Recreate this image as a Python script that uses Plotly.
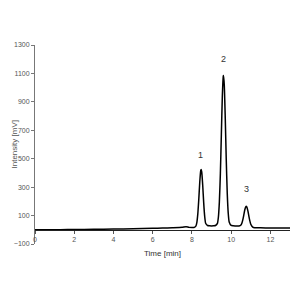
import plotly.graph_objects as go

time_min = [0, 0.5, 1.0, 1.3, 2.0, 3.0, 4.0, 5.0, 6.0, 6.5, 7.0, 7.5, 7.7, 7.85, 8.0,
            8.1, 8.2, 8.25, 8.3, 8.35, 8.4, 8.45, 8.47, 8.5, 8.55, 8.6, 8.65, 8.7, 8.8,
            8.9, 9.0, 9.1, 9.2, 9.3, 9.35, 9.4, 9.45, 9.5, 9.55, 9.6, 9.61, 9.65, 9.7,
            9.75, 9.8, 9.85, 9.9, 10.0, 10.1, 10.2, 10.3, 10.4, 10.5, 10.55, 10.6, 10.65,
            10.7, 10.75, 10.77, 10.8, 10.85, 10.9, 10.95, 11.0, 11.1, 11.2, 11.5, 12.0, 13.0]
intensity_mv = [0, 0, 1, 1, 2, 3, 5, 7, 10, 12, 14, 17, 22, 17, 16,
                16, 26, 51, 112, 215, 336, 417, 425, 407, 313, 191, 96, 46, 30,
                28, 27, 28, 30, 45, 90, 198, 395, 668, 938, 1081, 1085, 1017, 782,
                494, 260, 119, 55, 31, 28, 27, 27, 27, 34, 48, 73, 108,
                143, 163, 165, 160, 135, 98, 64, 39, 19, 15, 14, 13, 13]

peak_labels = ["1", "2", "3"]
peak_label_x = [8.42, 9.59, 10.77]
peak_label_y = [526, 1202, 287]

y_ticks = [-100, 100, 300, 500, 700, 900, 1100, 1300]
x_ticks = [0, 2, 4, 6, 8, 10, 12]

fig = go.Figure()
fig.add_trace(go.Scatter(x=time_min, y=intensity_mv, mode="lines",
                         line=dict(color="black", width=1.5, shape="spline", smoothing=0.5),
                         showlegend=False, hoverinfo="skip"))

for t, lx, ly in zip(peak_labels, peak_label_x, peak_label_y):
    fig.add_annotation(x=lx, y=ly, text=t, showarrow=False,
                       font=dict(family="Liberation Sans", size=9, color="#333333"))

fig.add_annotation(x=0, y=0.5, xref="paper", yref="paper", xshift=-21,
                   xanchor="center", yanchor="middle",
                   text="Intensity [mV]", textangle=-90, showarrow=False,
                   font=dict(family="Liberation Sans", size=8, color="#555555"))
fig.add_annotation(x=0.5, y=0, xref="paper", yref="paper", yshift=-9,
                   xanchor="center", yanchor="middle",
                   text="Time [min]", showarrow=False,
                   font=dict(family="Liberation Sans", size=8, color="#333333"))

fig.update_layout(
    width=300, height=300,
    margin=dict(l=35, r=10, t=45, b=56),
    paper_bgcolor="white", plot_bgcolor="white",
    font=dict(family="Liberation Sans", size=7, color="#555555"),
    xaxis=dict(range=[0, 13], tickvals=x_ticks, showgrid=False, zeroline=False,
               anchor="free", position=100 / 1400, automargin=False,
               showline=True, linecolor="#222222", linewidth=1,
               ticks="outside", ticklen=3, tickcolor="#555555",
               tickfont=dict(size=7, color="#555555")),
    yaxis=dict(range=[-100, 1300], tickvals=y_ticks, showgrid=False, zeroline=False,
               automargin=False,
               showline=True, linecolor="#777777", linewidth=1,
               ticks="outside", ticklen=3, tickcolor="#777777",
               tickfont=dict(size=7, color="#555555")),
)

fig.write_html("out.html")
